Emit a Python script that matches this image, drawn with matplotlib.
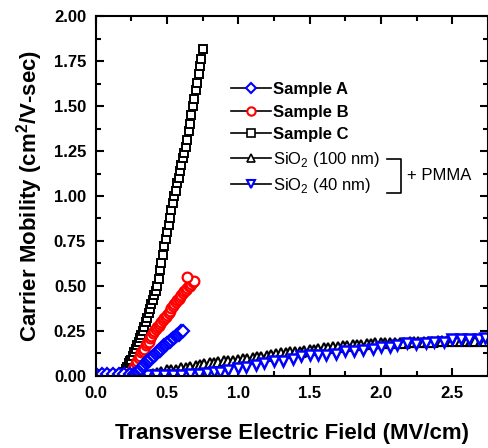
import matplotlib
matplotlib.use("Agg")
import matplotlib.pyplot as plt
from matplotlib.lines import Line2D
from matplotlib.ticker import MultipleLocator

plt.rcParams['font.family'] = ['Liberation Sans', 'DejaVu Sans']
plt.rcParams['mathtext.fontset'] = 'custom'
plt.rcParams['mathtext.rm'] = 'Liberation Sans'
plt.rcParams['mathtext.bf'] = 'Liberation Sans:bold'

# Sample A (blue diamonds)
a_x = [0.00, 0.04, 0.08, 0.12, 0.16, 0.20, 0.24, 0.27, 0.28, 0.29, 0.30, 0.31, 0.32, 0.33,
       0.34, 0.35, 0.36, 0.37, 0.38, 0.39, 0.40, 0.41, 0.42, 0.43, 0.44, 0.45, 0.46, 0.47,
       0.48, 0.49, 0.50, 0.51, 0.52, 0.53, 0.54, 0.55, 0.56, 0.57, 0.58, 0.59, 0.60, 0.61]
a_y = [0.01, 0.01, 0.01, 0.01, 0.01, 0.01, 0.01, 0.01, 0.01, 0.02, 0.02, 0.03, 0.04, 0.05,
       0.06, 0.07, 0.08, 0.08, 0.09, 0.10, 0.11, 0.11, 0.12, 0.13, 0.14, 0.14, 0.15, 0.16,
       0.17, 0.17, 0.18, 0.19, 0.19, 0.20, 0.21, 0.21, 0.22, 0.23, 0.23, 0.24, 0.25, 0.25]

# Sample B (red circles)
b_x = [0.00, 0.04, 0.08, 0.12, 0.16, 0.20, 0.23, 0.24, 0.25, 0.26, 0.27, 0.28, 0.29, 0.30,
       0.31, 0.32, 0.33, 0.34, 0.35, 0.36, 0.37, 0.38, 0.39, 0.40, 0.41, 0.42, 0.43, 0.44,
       0.45, 0.46, 0.47, 0.48, 0.49, 0.50, 0.51, 0.52, 0.53, 0.54, 0.55, 0.56, 0.57, 0.58,
       0.59, 0.60, 0.61, 0.62, 0.63, 0.64, 0.65, 0.66, 0.67, 0.68, 0.69, 0.64]
b_y = [0.01, 0.01, 0.01, 0.01, 0.01, 0.01, 0.01, 0.01, 0.02, 0.04, 0.05, 0.07, 0.08, 0.10,
       0.11, 0.13, 0.14, 0.15, 0.17, 0.18, 0.19, 0.21, 0.22, 0.24, 0.25, 0.26, 0.27, 0.28,
       0.29, 0.30, 0.31, 0.32, 0.33, 0.34, 0.35, 0.36, 0.38, 0.39, 0.40, 0.41, 0.42, 0.43,
       0.44, 0.45, 0.46, 0.47, 0.48, 0.49, 0.50, 0.50, 0.51, 0.52, 0.53, 0.55]

# Sample C (black squares)
c_x = [0.00, 0.04, 0.08, 0.12, 0.16, 0.19, 0.20, 0.21, 0.22, 0.23, 0.24, 0.25, 0.26, 0.27,
       0.28, 0.29, 0.30, 0.31, 0.32, 0.33, 0.34, 0.35, 0.36, 0.37, 0.38, 0.39, 0.40, 0.41,
       0.42, 0.43, 0.44, 0.45, 0.46, 0.47, 0.48, 0.49, 0.50, 0.51, 0.52, 0.53, 0.54, 0.55,
       0.56, 0.57, 0.58, 0.59, 0.60, 0.61, 0.62, 0.63, 0.64, 0.65, 0.66, 0.67, 0.68, 0.69,
       0.70, 0.71, 0.72, 0.73, 0.74, 0.75]
c_y = [0.01, 0.01, 0.01, 0.01, 0.01, 0.01, 0.02, 0.04, 0.05, 0.07, 0.08, 0.09, 0.11, 0.13,
       0.15, 0.17, 0.19, 0.21, 0.23, 0.25, 0.27, 0.30, 0.32, 0.35, 0.37, 0.40, 0.42, 0.45,
       0.47, 0.50, 0.54, 0.59, 0.63, 0.67, 0.72, 0.76, 0.80, 0.84, 0.88, 0.92, 0.96, 1.00,
       1.03, 1.07, 1.10, 1.14, 1.17, 1.21, 1.24, 1.27, 1.31, 1.36, 1.40, 1.45, 1.50, 1.54,
       1.59, 1.63, 1.68, 1.72, 1.76, 1.82]

# SiO2 (100 nm) + PMMA (black up triangles)
s100_x = [0.36, 0.40, 0.43, 0.46, 0.50, 0.53, 0.56, 0.60, 0.63, 0.66, 0.70, 0.73, 0.76,
          0.80, 0.83, 0.86, 0.90, 0.93, 0.96, 1.00, 1.03, 1.06, 1.10, 1.13, 1.16, 1.20,
          1.23, 1.26, 1.30, 1.33, 1.36, 1.40, 1.43, 1.46, 1.50, 1.53, 1.56, 1.60, 1.63,
          1.66, 1.70, 1.73, 1.76, 1.80, 1.83, 1.86, 1.90, 1.93, 1.96, 2.00, 2.03, 2.06,
          2.10, 2.13, 2.16, 2.20, 2.23, 2.26, 2.30, 2.33, 2.36, 2.40, 2.43, 2.46, 2.50,
          2.53, 2.56, 2.60, 2.63, 2.66, 2.70, 2.73]
s100_y = [0.005, 0.01, 0.015, 0.02, 0.03, 0.03, 0.035, 0.045, 0.045, 0.05, 0.055, 0.06,
          0.065, 0.07, 0.07, 0.075, 0.08, 0.085, 0.085, 0.09, 0.095, 0.095, 0.10, 0.105,
          0.105, 0.11, 0.115, 0.12, 0.125, 0.125, 0.13, 0.135, 0.135, 0.14, 0.145, 0.145,
          0.15, 0.155, 0.155, 0.16, 0.16, 0.165, 0.165, 0.17, 0.17, 0.17, 0.175, 0.175,
          0.18, 0.18, 0.18, 0.185, 0.185, 0.185, 0.185, 0.19, 0.19, 0.19, 0.19, 0.19,
          0.19, 0.195, 0.195, 0.195, 0.195, 0.195, 0.195, 0.195, 0.195, 0.195, 0.195, 0.195]

# SiO2 (40 nm) + PMMA (blue down triangles)
s40_x = [0.00, 0.06, 0.12, 0.18, 0.24, 0.30, 0.36, 0.42, 0.48, 0.54, 0.60, 0.66, 0.72,
         0.78, 0.83, 0.87, 0.925, 1.00, 1.055, 1.125, 1.18, 1.25, 1.31, 1.38, 1.44, 1.50,
         1.56, 1.615, 1.685, 1.745, 1.81, 1.87, 1.94, 2.00, 2.06, 2.115, 2.185, 2.245,
         2.315, 2.37, 2.44, 2.50, 2.56, 2.62, 2.69, 2.73]
s40_y = [0.005, 0.005, 0.005, 0.005, 0.005, 0.005, 0.005, 0.005, 0.005, 0.005, 0.005, 0.008,
         0.01, 0.015, 0.02, 0.024, 0.033, 0.043, 0.052, 0.061, 0.07, 0.08, 0.084, 0.093,
         0.108, 0.117, 0.117, 0.117, 0.123, 0.136, 0.141, 0.145, 0.15, 0.16, 0.16, 0.173,
         0.18, 0.178, 0.18, 0.188, 0.19, 0.206, 0.206, 0.204, 0.204, 0.21]

labels = ['Sample A', 'Sample B', 'Sample C', 'SiO$_2$ (100 nm)', 'SiO$_2$ (40 nm)']

fig = plt.figure(figsize=(4.89, 4.48), dpi=100)
ax = fig.add_axes([0.196, 0.161, 0.802, 0.803])

ax.plot(s100_x, s100_y, ls='none', marker='^', ms=6.5, mfc='white', mec='black', mew=1.5)
ax.plot(s40_x, s40_y, ls='none', marker='v', ms=6.5, mfc='white', mec='blue', mew=1.8)
ax.plot(c_x, c_y, ls='none', marker='s', ms=6.3, mfc='white', mec='black', mew=1.4)
ax.plot(b_x, b_y, ls='none', marker='o', ms=7, mfc='white', mec='red', mew=1.6)
ax.plot(a_x, a_y, ls='none', marker='D', ms=6, mfc='white', mec='blue', mew=1.6)

ax.set_xlim(0, 2.75)
ax.set_ylim(0, 2.0)
ax.xaxis.set_major_locator(MultipleLocator(0.5))
ax.xaxis.set_minor_locator(MultipleLocator(0.25))
ax.yaxis.set_major_locator(MultipleLocator(0.25))
ax.yaxis.set_minor_locator(MultipleLocator(0.125))
ax.xaxis.set_major_formatter(plt.FormatStrFormatter('%.1f'))
ax.yaxis.set_major_formatter(plt.FormatStrFormatter('%.2f'))
ax.tick_params(which='both', direction='in', top=True, right=True, width=1.5)
ax.tick_params(which='major', length=6, labelsize=12, pad=7)
ax.tick_params(which='minor', length=3.5)
for lab in ax.get_xticklabels() + ax.get_yticklabels():
    lab.set_fontweight('bold')
for sp in ax.spines.values():
    sp.set_linewidth(1.5)

ax.set_xlabel('Transverse Electric Field (MV/cm)', fontsize=16, fontweight='bold', labelpad=16)
ax.set_ylabel('Carrier Mobility (cm$^\\mathbf{2}$/V-sec)', fontsize=16, fontweight='bold', labelpad=6)

# legend: black line with coloured marker
handles = [
    Line2D([], [], color='black', lw=1.2, marker='D', ms=5, mfc='white', mec='blue', mew=1.5),
    Line2D([], [], color='black', lw=1.2, marker='o', ms=6, mfc='white', mec='red', mew=1.5),
    Line2D([], [], color='black', lw=1.2, marker='s', ms=5.5, mfc='white', mec='black', mew=1.2),
    Line2D([], [], color='black', lw=1.2, marker='^', ms=5.5, mfc='white', mec='black', mew=1.2),
    Line2D([], [], color='black', lw=1.2, marker='v', ms=5.5, mfc='white', mec='blue', mew=1.5),
]
leg = ax.legend(handles, labels, loc='upper left', bbox_to_anchor=(223 / 489, 1 - 74 / 448),
                bbox_transform=fig.transFigure, frameon=False, fontsize=12,
                handlelength=2.4, handletextpad=0.1, labelspacing=0.45, borderpad=0)
for i, t in enumerate(leg.get_texts()):
    if i < 3:
        t.set_fontweight('bold')

# bracket joining the two SiO2 entries
bx = [387 / 489, 401 / 489, 401 / 489, 387 / 489]
by = [1 - 159 / 448, 1 - 159 / 448, 1 - 193 / 448, 1 - 193 / 448]
fig.add_artist(Line2D(bx, by, color='black', lw=1.2, transform=fig.transFigure))
fig.text(407 / 489, 1 - 176 / 448, '+ PMMA', fontsize=12, va='center', ha='left')

fig.savefig('out.png', dpi=100)
